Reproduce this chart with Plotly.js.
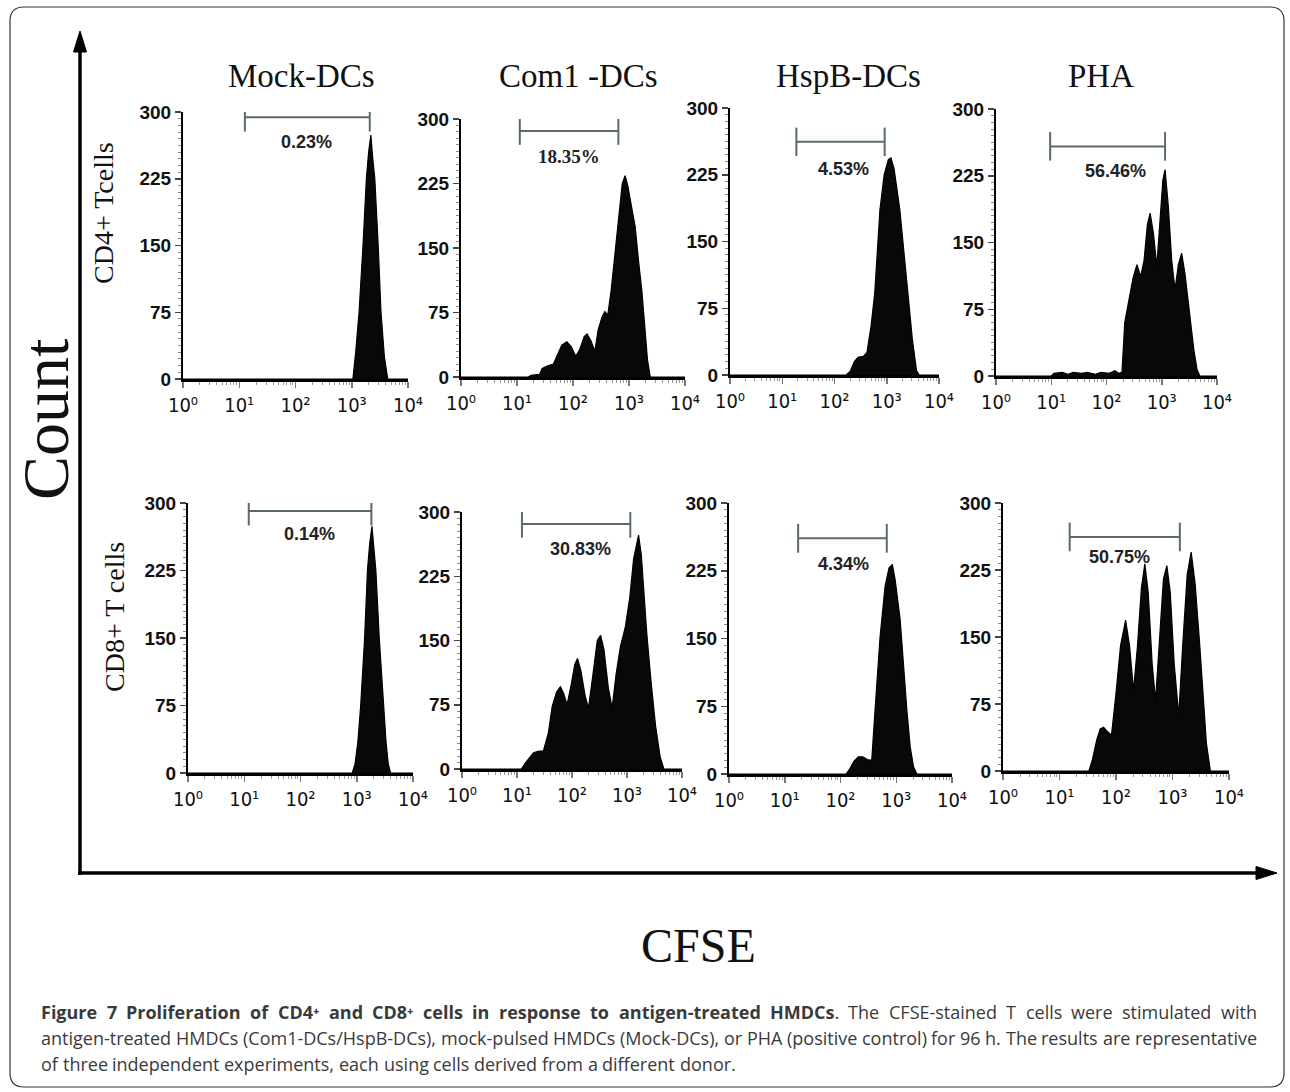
<!DOCTYPE html>
<html><head><meta charset="utf-8">
<script src="https://cdn.plot.ly/plotly-3.0.1.min.js"></script>
<style>html,body{margin:0;padding:0;background:#fff;}#chart{width:1290px;height:1092px;}</style>
</head><body><div id="chart"></div>
<script>
// ---------------- DATA (x = log10 CFSE, y = cell count) ----------------
const panelTitles = ["Mock-DCs", "Com1 -DCs", "HspB-DCs", "PHA"];
const rowLabels = ["CD4+ Tcells", "CD8+ T cells"];
const yTickVals = [0, 75, 150, 225, 300];
const xTickVals = [1, 10, 100, 1000, 10000];
const xTickText = ["10\u2070", "10\u00b9", "10\u00b2", "10\u00b3", "10\u2074"];

const cd4MockX = [0,3.02,3.07,3.13,3.20,3.26,3.30,3.34,3.37,3.41,3.47,3.52,3.58,3.64,4];
const cd4MockY = [0,0,30,75,150,225,255,274,250,225,150,75,25,0,0];

const cd4Com1X = [0,1.20,1.25,1.40,1.45,1.55,1.65,1.72,1.80,1.89,1.97,2.05,2.12,2.20,2.25,2.32,2.39,2.45,2.52,2.57,2.62,2.68,2.75,2.82,2.88,2.93,2.98,3.04,3.11,3.17,3.23,3.28,3.33,3.38,4];
const cd4Com1Y = [0,0,2,3,10,13,15,25,37,41,35,24,32,47,50,42,30,55,70,76,72,100,145,190,225,234,222,200,175,135,100,60,20,0,0];

const cd4HspX = [0,2.22,2.30,2.38,2.45,2.55,2.62,2.70,2.77,2.87,2.95,3.03,3.08,3.14,3.25,3.33,3.41,3.49,3.57,3.62,4];
const cd4HspY = [0,0,4,15,20,21,25,55,92,186,225,242,244,232,186,140,92,40,5,0,0];

const cd4PhaX = [0,1.00,1.05,1.20,1.30,1.40,1.55,1.65,1.80,1.90,2.05,2.15,2.22,2.28,2.33,2.40,2.48,2.55,2.62,2.68,2.74,2.79,2.85,2.91,2.96,3.02,3.06,3.12,3.18,3.24,3.30,3.36,3.42,3.50,3.58,3.64,3.69,4];
const cd4PhaY = [0,0,3,4,2,4,3,4,2,4,3,6,3,4,60,85,110,125,112,130,170,183,160,123,170,220,232,190,130,97,125,138,115,74,30,7,0,0];

const cd8MockX = [0,2.92,2.97,3.02,3.07,3.14,3.19,3.23,3.27,3.30,3.34,3.40,3.47,3.52,3.56,3.60,4];
const cd8MockY = [0,0,10,35,75,150,225,255,274,250,225,150,75,35,10,0,0];

const cd8Com1X = [0,1.08,1.15,1.30,1.40,1.48,1.57,1.64,1.72,1.79,1.85,1.91,1.99,2.05,2.10,2.16,2.24,2.30,2.38,2.46,2.52,2.58,2.66,2.73,2.80,2.88,2.97,3.05,3.12,3.21,3.26,3.31,3.36,3.44,3.52,3.60,3.67,4];
const cd8Com1Y = [0,0,7,19,21,21,42,73,90,96,88,75,100,122,129,115,85,71,110,150,156,140,95,71,110,143,166,200,245,273,250,205,158,100,50,15,0,0];

const cd8HspX = [0,2.10,2.16,2.24,2.32,2.40,2.48,2.56,2.62,2.71,2.80,2.87,2.93,2.98,3.07,3.13,3.19,3.25,3.31,3.37,4];
const cd8HspY = [0,0,5,14,19,19,16,15,71,152,208,228,232,215,171,120,71,30,8,0,0];

const cd8PhaX = [0,1.52,1.58,1.66,1.72,1.78,1.85,1.92,2.00,2.08,2.17,2.24,2.31,2.38,2.45,2.51,2.57,2.64,2.70,2.77,2.84,2.90,2.96,3.03,3.11,3.18,3.26,3.33,3.40,3.48,3.55,3.60,3.67,4];
const cd8PhaY = [0,0,12,35,47,49,44,40,87,140,169,140,90,140,205,232,200,120,79,150,215,230,200,120,62,140,220,245,210,143,70,31,0,0];

const gatePercent = ["0.23%", "18.35%", "4.53%", "56.46%", "0.14%", "30.83%", "4.34%", "50.75%"];
const gateLo = [1.10, 1.05, 1.27, 0.98, 1.08, 1.09, 1.24, 1.18];   // log10 CFSE
const gateHi = [3.32, 2.81, 2.96, 3.06, 3.26, 3.06, 2.83, 3.13];   // log10 CFSE
const gateY  = [294, 286, 262, 258, 291, 286, 261, 262];            // count
const labelX = [2.20, 1.93, 2.17, 2.16, 2.16, 2.15, 2.05, 2.06];   // log10 CFSE
const labelY = [266, 256, 232, 230, 265, 257, 233, 240];            // count

const captionLines = [
  "<b>Figure 7 Proliferation of CD4\u207a and CD8\u207a cells in response to antigen-treated HMDCs</b>. The CFSE-stained T cells were stimulated with",
  "antigen-treated HMDCs (Com1-DCs/HspB-DCs), mock-pulsed HMDCs (Mock-DCs), or PHA (positive control) for 96 h. The results are representative",
  "of three independent experiments, each using cells derived from a different donor."
];

// ---------------- LAYOUT ----------------
const W = 1290, H = 1092;
const fx = p => p / W;
const fy = p => 1 - p / H;

const histX = [cd4MockX, cd4Com1X, cd4HspX, cd4PhaX, cd8MockX, cd8Com1X, cd8HspX, cd8PhaX];
const histY = [cd4MockY, cd4Com1Y, cd4HspY, cd4PhaY, cd8MockY, cd8Com1Y, cd8HspY, cd8PhaY];

// pixel boxes: [left, right, top(300), bottom(0)]
const boxes = [
  [183, 408, 112, 379], [461, 685, 119, 377], [730, 939, 108, 375], [996, 1217, 109, 376],
  [188, 413, 503, 773], [462, 682, 512, 769], [729, 952, 503, 774], [1003, 1229, 503, 771]
];

const serif = "'Liberation Serif', 'Times New Roman', serif";
const sans = "'Liberation Sans', Arial, sans-serif";
const tickSans = "'DejaVu Sans Condensed', 'DejaVu Sans', sans-serif";
const capFont = "'Open Sans'";

const layout = {
  width: W, height: H,
  margin: {l: 0, r: 0, t: 0, b: 0},
  paper_bgcolor: '#fff', plot_bgcolor: 'rgba(0,0,0,0)',
  showlegend: false,
  font: {family: sans, color: '#000', size: 14},
  annotations: [], shapes: []
};
const traces = [];

boxes.forEach((b, i) => {
  const k = i === 0 ? '' : String(i + 1);
  layout['xaxis' + k] = {
    domain: [fx(b[0]), fx(b[1])], anchor: 'y' + k, type: 'log', range: [0, 4],
    tickmode: 'array', tickvals: xTickVals, ticktext: xTickText,
    ticks: 'outside', ticklen: 6, tickwidth: 1.5, tickcolor: '#777',
    showline: true, linecolor: '#000', linewidth: 3,
    showgrid: false, zeroline: false, fixedrange: true,
    tickfont: {family: tickSans, size: 20, color: '#111'},
    minor: {ticks: 'outside', ticklen: 3, tickwidth: 1, tickcolor: '#999', dtick: 'D1', showgrid: false}
  };
  layout['yaxis' + k] = {
    domain: [fy(b[3]), fy(b[2])], anchor: 'x' + k, range: [0, 300],
    tickmode: 'array', tickvals: yTickVals,
    ticks: 'outside', ticklen: 6, tickwidth: 1.5, tickcolor: '#444',
    showline: true, linecolor: '#000', linewidth: 2,
    showgrid: false, zeroline: false, fixedrange: true,
    tickfont: {family: sans, size: 19, weight: 'bold', color: '#111'},
    minor: {ticks: 'outside', ticklen: 3, tickwidth: 1, tickcolor: '#888', dtick: 7.5, showgrid: false}
  };

  traces.push({
    type: 'scatter', mode: 'lines',
    x: histX[i].map(v => Math.pow(10, v)), y: histY[i],
    xaxis: 'x' + k, yaxis: 'y' + k,
    fill: 'tozeroy', fillcolor: '#080808',
    line: {color: '#000', width: 1.2}, hoverinfo: 'skip'
  });

  const lo = Math.pow(10, gateLo[i]), hi = Math.pow(10, gateHi[i]), g = gateY[i], h = 16;
  traces.push({
    type: 'scatter', mode: 'lines', cliponaxis: false, connectgaps: false,
    x: [lo, lo, null, lo, hi, null, hi, hi],
    y: [g - h, g + h, null, g, g, null, g - h, g + h],
    xaxis: 'x' + k, yaxis: 'y' + k,
    line: {color: '#5b6a6a', width: 2}, hoverinfo: 'skip'
  });

  layout.annotations.push({
    xref: 'x' + k, yref: 'y' + k, x: labelX[i], y: labelY[i],
    text: gatePercent[i], showarrow: false,
    font: {family: i === 1 ? serif : sans, size: i === 1 ? 19 : 18, weight: 'bold', color: '#222'}
  });
});

// column titles
const titleX = [301, 578, 848, 1101];
panelTitles.forEach((t, j) => layout.annotations.push({
  xref: 'paper', yref: 'paper', x: fx(titleX[j]), y: fy(76), text: t, showarrow: false,
  xanchor: 'center', yanchor: 'middle', font: {family: serif, size: 33, color: '#111'}
}));

// row labels
const rowPos = [[104, 213], [114, 617]];
rowLabels.forEach((t, j) => layout.annotations.push({
  xref: 'paper', yref: 'paper', x: fx(rowPos[j][0]), y: fy(rowPos[j][1]), text: t, showarrow: false,
  textangle: -90, xanchor: 'center', yanchor: 'middle', font: {family: serif, size: 28, color: '#111'}
}));

// big axis labels
layout.annotations.push({
  xref: 'paper', yref: 'paper', x: fx(46), y: fy(420), text: 'Count', showarrow: false,
  textangle: -90, xanchor: 'center', yanchor: 'middle', font: {family: serif, size: 66, color: '#111'}
});
layout.annotations.push({
  xref: 'paper', yref: 'paper', x: fx(698), y: fy(945), text: 'CFSE', showarrow: false,
  xanchor: 'center', yanchor: 'middle', font: {family: serif, size: 48, color: '#111'}
});

// arrows (line + filled head)
const P = (x, y) => fx(x) + ',' + fy(y);
layout.shapes.push({type: 'line', xref: 'paper', yref: 'paper', x0: fx(80), x1: fx(80), y0: fy(875), y1: fy(46),
  line: {color: '#000', width: 3.5}});
layout.shapes.push({type: 'path', xref: 'paper', yref: 'paper',
  path: 'M' + P(80, 31) + ' L' + P(86.5, 52) + ' L' + P(73.5, 52) + ' Z', fillcolor: '#000', line: {color: '#000', width: 1}});
layout.shapes.push({type: 'line', xref: 'paper', yref: 'paper', x0: fx(78), x1: fx(1262), y0: fy(873), y1: fy(873),
  line: {color: '#000', width: 3.5}});
layout.shapes.push({type: 'path', xref: 'paper', yref: 'paper',
  path: 'M' + P(1277, 873) + ' L' + P(1256, 866.5) + ' L' + P(1256, 879.5) + ' Z', fillcolor: '#000', line: {color: '#000', width: 1}});

// caption, justified like the reference (first two lines full width)
const capSize = 18;
const ctx = document.createElement('canvas').getContext('2d');
function tokenize(line) {
  let bold = false;
  return line.split(' ').map(w => {
    const parts = [];
    w.split(/(<b>|<\/b>)/).forEach(s => {
      if (s === '<b>') bold = true; else if (s === '</b>') bold = false; else if (s) parts.push({t: s, b: bold});
    });
    const width = parts.reduce((s, p) => { ctx.font = (p.b ? 'bold ' : '') + capSize + 'px ' + capFont; return s + ctx.measureText(p.t).width; }, 0);
    const html = parts.map(p => p.b ? '<b>' + p.t + '</b>' : p.t).join('');
    return {html, width};
  });
}
ctx.font = capSize + 'px ' + capFont;
const spaceW = ctx.measureText(' ').width;
const capY = [1012, 1038, 1064];
const capLeft = 40, capRight = 1256;
captionLines.forEach((line, j) => {
  const toks = tokenize(line);
  const total = toks.reduce((s, t) => s + t.width, 0);
  const gap = j < 2 ? (capRight - capLeft - total) / (toks.length - 1) : spaceW;
  let x = capLeft;
  toks.forEach(t => {
    layout.annotations.push({
      xref: 'paper', yref: 'paper', x: fx(x), y: fy(capY[j]), text: t.html, showarrow: false,
      xanchor: 'left', yanchor: 'middle', align: 'left', borderpad: 0,
      font: {family: capFont + ", 'Noto Sans', sans-serif", size: capSize, color: '#3a3a3a'}
    });
    x += t.width + gap;
  });
});

// rounded border
(function () {
  const x0 = 10, y0 = 7, x1 = 1284, y1 = 1087, r = 14;
  const path = 'M' + P(x0 + r, y0) + ' L' + P(x1 - r, y0) + ' Q' + P(x1, y0) + ' ' + P(x1, y0 + r) +
    ' L' + P(x1, y1 - r) + ' Q' + P(x1, y1) + ' ' + P(x1 - r, y1) +
    ' L' + P(x0 + r, y1) + ' Q' + P(x0, y1) + ' ' + P(x0, y1 - r) +
    ' L' + P(x0, y0 + r) + ' Q' + P(x0, y0) + ' ' + P(x0 + r, y0) + ' Z';
  layout.shapes.push({type: 'path', xref: 'paper', yref: 'paper', path: path,
    line: {color: '#333', width: 1.2}, fillcolor: 'rgba(0,0,0,0)', layer: 'below'});
})();

Plotly.newPlot('chart', traces, layout, {staticPlot: true, displayModeBar: false});
</script>
</body></html>
